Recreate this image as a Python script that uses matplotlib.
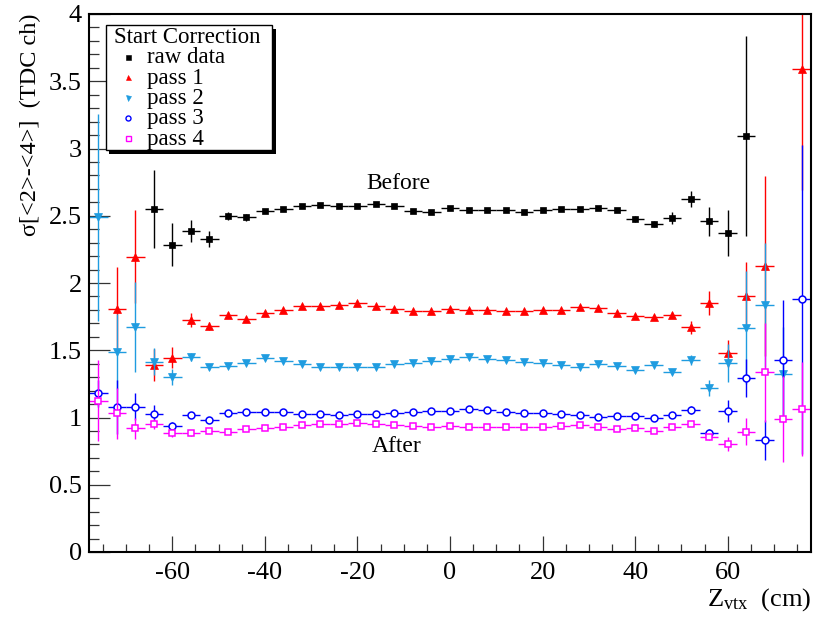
import numpy as np
import matplotlib
matplotlib.use("Agg")
import matplotlib.pyplot as plt
from matplotlib.patches import Rectangle
from matplotlib.lines import Line2D
from matplotlib.ticker import MultipleLocator

plt.rcParams['font.family'] = ['Liberation Serif', 'DejaVu Serif']
plt.rcParams['mathtext.fontset'] = 'custom'
plt.rcParams['mathtext.rm'] = 'Liberation Serif'
plt.rcParams['mathtext.it'] = 'Liberation Serif:italic'

nan = np.nan
zvtx = np.arange(-76, 77, 4)

raw_data = [0.0, nan, nan, 2.548, 2.283, 2.389, 2.327, 2.500, 2.488, 2.535, 2.550, 2.575, 2.582,
            2.575, 2.574, 2.587, 2.572, 2.538, 2.528, 2.555, 2.545, 2.540, 2.540, 2.530, 2.543,
            2.553, 2.548, 2.555, 2.546, 2.476, 2.439, 2.481, 2.622, 2.459, 2.374, 3.093, nan, nan, nan]
raw_err = [0.0, 0, 0, 0.29, 0.16, 0.083, 0.058, 0.03, 0.025, 0.015, 0.015, 0.015, 0.015,
           0.015, 0.015, 0.015, 0.015, 0.015, 0.015, 0.015, 0.015, 0.015, 0.015, 0.015, 0.015,
           0.015, 0.015, 0.015, 0.015, 0.02, 0.025, 0.045, 0.06, 0.107, 0.17, 0.746, 0, 0, 0]

pass1 = [nan, 1.807, 2.196, 1.390, 1.445, 1.725, 1.680, 1.762, 1.732, 1.779, 1.799, 1.831, 1.829,
         1.838, 1.851, 1.831, 1.807, 1.792, 1.790, 1.809, 1.799, 1.797, 1.792, 1.790, 1.797,
         1.799, 1.819, 1.817, 1.774, 1.754, 1.747, 1.764, 1.670, 1.854, 1.477, 1.906, 2.129, nan, 3.591]
pass1_err = [0, 0.31, 0.345, 0.12, 0.08, 0.05, 0.03, 0.02, 0.015, 0.015, 0.015, 0.015, 0.015,
             0.015, 0.015, 0.015, 0.015, 0.015, 0.015, 0.015, 0.015, 0.015, 0.015, 0.015, 0.015,
             0.015, 0.015, 0.015, 0.015, 0.015, 0.015, 0.02, 0.05, 0.09, 0.10, 0.25, 0.67, 0, 0.9]

pass2 = [2.488, 1.489, 1.675, 1.415, 1.303, 1.452, 1.373, 1.383, 1.403, 1.440, 1.422, 1.398, 1.378,
         1.373, 1.378, 1.375, 1.395, 1.408, 1.420, 1.437, 1.450, 1.433, 1.428, 1.415, 1.403,
         1.388, 1.373, 1.398, 1.380, 1.350, 1.390, 1.341, 1.428, 1.222, 1.403, 1.668, 1.836, 1.323, nan]
pass2_err = [0.77, 0.28, 0.335, 0.10, 0.06, 0.03, 0.02, 0.015, 0.015, 0.015, 0.015, 0.015, 0.015,
             0.015, 0.015, 0.015, 0.015, 0.015, 0.015, 0.015, 0.015, 0.015, 0.015, 0.015, 0.015,
             0.015, 0.015, 0.015, 0.015, 0.015, 0.015, 0.02, 0.04, 0.06, 0.14, 0.42, 0.46, 0.35, 0]

pass3 = [1.180, 1.076, 1.081, 1.024, 0.937, 1.016, 0.984, 1.031, 1.039, 1.041, 1.039, 1.026, 1.024,
         1.016, 1.025, 1.024, 1.033, 1.041, 1.046, 1.051, 1.061, 1.056, 1.043, 1.036, 1.031,
         1.024, 1.016, 1.004, 1.008, 1.013, 0.996, 1.016, 1.056, 0.887, 1.048, 1.294, 0.835, 1.430, 1.879]
pass3_err = [0.10, 0.20, 0.10, 0.07, 0.03, 0.02, 0.01, 0.01, 0.01, 0.01, 0.01, 0.01, 0.01,
             0.01, 0.01, 0.01, 0.01, 0.01, 0.01, 0.01, 0.01, 0.01, 0.01, 0.01, 0.01,
             0.01, 0.01, 0.01, 0.01, 0.01, 0.01, 0.01, 0.03, 0.03, 0.08, 0.14, 0.15, 0.44, 1.15]

pass4 = [1.125, 1.031, 0.920, 0.952, 0.882, 0.885, 0.902, 0.890, 0.912, 0.920, 0.929, 0.942, 0.949,
         0.953, 0.959, 0.952, 0.942, 0.934, 0.932, 0.937, 0.929, 0.929, 0.929, 0.932, 0.932,
         0.934, 0.944, 0.930, 0.913, 0.921, 0.900, 0.932, 0.949, 0.853, 0.803, 0.895, 1.336, 0.987, 1.063]
pass4_err = [0.30, 0.19, 0.08, 0.04, 0.03, 0.02, 0.01, 0.01, 0.01, 0.01, 0.01, 0.01, 0.01,
             0.01, 0.01, 0.01, 0.01, 0.01, 0.01, 0.01, 0.01, 0.01, 0.01, 0.01, 0.01,
             0.01, 0.01, 0.01, 0.01, 0.01, 0.01, 0.01, 0.01, 0.02, 0.05, 0.10, 0.37, 0.32, 0.35]

bin_half_width = 2.0

series_names = ["raw data", "pass 1", "pass 2", "pass 3", "pass 4"]
series_vals = [raw_data, pass1, pass2, pass3, pass4]
series_errs = [raw_err, pass1_err, pass2_err, pass3_err, pass4_err]
colors = ["#000000", "#ff0000", "#1f9ce0", "#0000ff", "#ff00ff"]
markers = ["s", "^", "v", "o", "s"]
filled = [True, True, True, False, False]
msizes = [5.0, 5.2, 5.2, 5.0, 4.8]

W, H = 813, 621
fig = plt.figure(figsize=(W / 100, H / 100), dpi=100)
ax = fig.add_axes([89 / W, 1 - 552 / H, (811 - 89) / W, (552 - 14) / H])

for i, (vals, errs) in enumerate(zip(series_vals, series_errs)):
    v = np.array(vals, dtype=float)
    e = np.array(errs, dtype=float)
    ax.errorbar(zvtx, v, yerr=e, xerr=bin_half_width, fmt='none', ecolor=colors[i],
                elinewidth=1.0, capsize=0, zorder=2 + i)
    vm = np.where(v > 0, v, np.nan)
    ax.plot(zvtx, vm, linestyle='none', marker=markers[i], markersize=msizes[i],
            color=colors[i], markerfacecolor=colors[i] if filled[i] else 'white',
            markeredgecolor=colors[i], markeredgewidth=1.1 if not filled[i] else 0.5,
            zorder=2.5 + i)

ax.set_xlim(-78, 78)
ax.set_ylim(0, 4)
ax.xaxis.set_major_locator(MultipleLocator(20))
ax.xaxis.set_minor_locator(MultipleLocator(5))
ax.yaxis.set_major_locator(MultipleLocator(0.5))
ax.yaxis.set_minor_locator(MultipleLocator(0.1))
ax.yaxis.set_major_formatter(matplotlib.ticker.FuncFormatter(lambda v, p: f"{v:g}"))
ax.xaxis.set_major_formatter(matplotlib.ticker.FuncFormatter(lambda v, p: f"{v:g}"))
ax.tick_params(axis='both', which='both', direction='in', top=False, right=False,
               labelsize=19, color='#333333')
ax.tick_params(axis='y', which='major', length=15, width=0.9, pad=5)
ax.tick_params(axis='y', which='minor', length=7, width=0.9)
ax.tick_params(axis='x', which='major', length=11.5, width=0.9, pad=7)
ax.tick_params(axis='x', which='minor', length=5.8, width=0.9)
for s in ax.spines.values():
    s.set_linewidth(1.5)
    s.set_zorder(20)

ax.text(-11.2, 2.743, "Before", ha='center', va='center', fontsize=17)
ax.text(-11.5, 0.781, "After", ha='center', va='center', fontsize=17)

fig.text(811 / W, 1 - 606 / H, r"$\mathrm{Z}_{\mathrm{vtx}}$  (cm)", ha='right', va='baseline', fontsize=19)
fig.text(30 / W, 1 - 13 / H, "σ[<2>-<4>]  (TDC ch)", rotation=90, ha='center', va='top', fontsize=17.5)

# legend box (figure pixel coords converted)
lx0, lx1, ly0, ly1 = 105.7, 272.3, 25, 150
sh = 3.5
fig.add_artist(Rectangle(((lx0 + sh) / W, 1 - (ly1 + sh) / H), (lx1 - lx0) / W, (ly1 - ly0) / H,
                         transform=fig.transFigure, facecolor='black', edgecolor='black', lw=0, zorder=30))
fig.add_artist(Rectangle((lx0 / W, 1 - ly1 / H), (lx1 - lx0) / W, (ly1 - ly0) / H,
                         transform=fig.transFigure, facecolor='white', edgecolor='black', lw=1.0, zorder=31))
fig.text(114 / W, 1 - 43.3 / H, "Start Correction", ha='left', va='baseline', fontsize=16.5, zorder=32)
base_y = [63.3, 83.6, 104.0, 124.3, 144.6]
for i, name in enumerate(series_names):
    fig.text(146.7 / W, 1 - base_y[i] / H, name, ha='left', va='baseline', fontsize=16.5, zorder=32)
    fig.add_artist(Line2D([127.7 / W], [1 - (base_y[i] - 6.5) / H], transform=fig.transFigure,
                          linestyle='none', marker=markers[i], markersize=3.6, color=colors[i],
                          markerfacecolor=colors[i] if filled[i] else 'white',
                          markeredgecolor=colors[i], markeredgewidth=1.0 if not filled[i] else 0.4,
                          zorder=33))

fig.savefig("out.png", dpi=100)
